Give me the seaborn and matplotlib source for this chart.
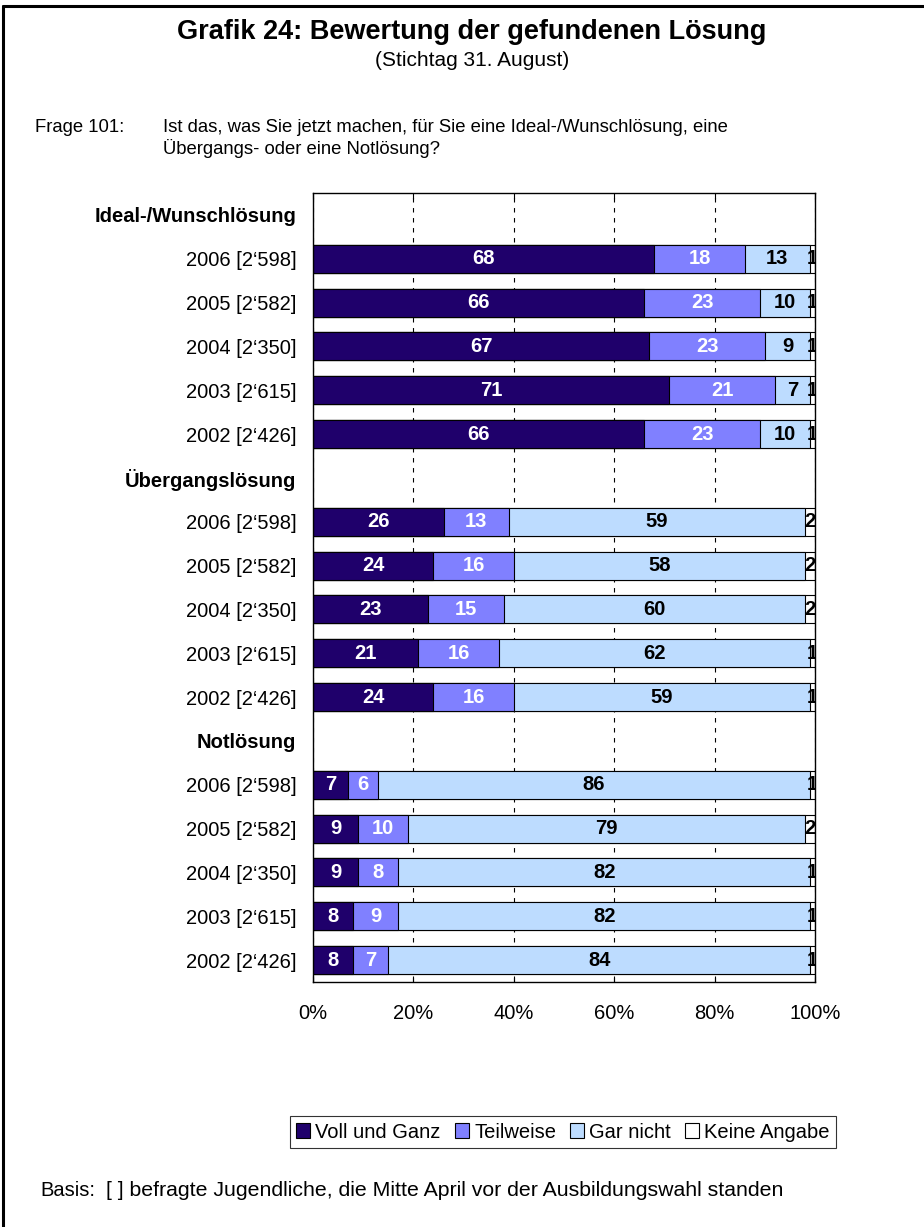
import matplotlib
matplotlib.use("Agg")
import matplotlib.pyplot as plt
from matplotlib.patches import Patch
from matplotlib.lines import Line2D
import seaborn as sns
import pandas as pd
import numpy as np

# ---------------- data ----------------
groups = ["Ideal-/Wunschlösung", "Übergangslösung", "Notlösung"]
years = ["2006 [2‘598]", "2005 [2‘582]", "2004 [2‘350]", "2003 [2‘615]", "2002 [2‘426]"]
series = ["Voll und Ganz", "Teilweise", "Gar nicht", "Keine Angabe"]
colors = ["#1F006B", "#8080FF", "#BDDCFF", "#FFFFFF"]
label_colors = ["white", "white", "black", "black"]

voll = [68, 66, 67, 71, 66, 26, 24, 23, 21, 24, 7, 9, 9, 8, 8]
teil = [18, 23, 23, 21, 23, 13, 16, 15, 16, 16, 6, 10, 8, 9, 7]
gar = [13, 10, 9, 7, 10, 59, 58, 60, 62, 59, 86, 79, 82, 82, 84]
keine = [1, 1, 1, 1, 1, 2, 2, 2, 1, 1, 1, 2, 1, 1, 1]

xticks = [0, 20, 40, 60, 80, 100]
xticklabels = ["0%", "20%", "40%", "60%", "80%", "100%"]

title = "Grafik 24: Bewertung der gefundenen Lösung"
subtitle = "(Stichtag 31. August)"
frage = "Frage 101:"
question = ["Ist das, was Sie jetzt machen, für Sie eine Ideal-/Wunschlösung, eine",
            "Übergangs- oder eine Notlösung?"]
basis = "Basis:"
basis_text = "[ ] befragte Jugendliche, die Mitte April vor der Ausbildungswahl standen"

# ---------------- build table ----------------
order, tick_labels, header_flags = [], [], []
rows = []
i = 0
for g in groups:
    order.append(f"H|{g}")
    tick_labels.append(g)
    header_flags.append(True)
    for y in years:
        key = f"{g}|{y}"
        order.append(key)
        tick_labels.append(y)
        header_flags.append(False)
        rows.append(dict(key=key, v1=voll[i], v2=teil[i], v3=gar[i], v4=keine[i]))
        i += 1
df = pd.DataFrame(rows)
df["c1"] = df["v1"]
df["c2"] = df["c1"] + df["v2"]
df["c3"] = df["c2"] + df["v3"]
df["c4"] = df["c3"] + df["v4"]

# ---------------- figure ----------------
sns.set_style("white")
plt.rcParams["font.family"] = ["Liberation Sans", "DejaVu Sans"]
for k in ["text.color", "axes.labelcolor", "xtick.color", "ytick.color"]:
    plt.rcParams[k] = "black"
FS = 14.5

fig = plt.figure(figsize=(9.24, 12.27), dpi=100)
ax = fig.add_axes([313 / 924, 1 - 982 / 1227, 502 / 924, 789 / 1227])

for cum, col in zip(["c4", "c3", "c2", "c1"], colors[::-1]):
    sns.barplot(data=df, x=cum, y="key", order=order, orient="h", color=col,
                saturation=1, width=0.64, edgecolor="black", linewidth=0.8,
                errorbar=None, ax=ax, zorder=2)

# value labels
for _, r in df.iterrows():
    pos = order.index(r["key"])
    left = 0
    for k, vcol in enumerate(["v1", "v2", "v3", "v4"]):
        v = r[vcol]
        ax.text(left + v / 2, pos, str(int(v)), ha="center", va="center",
                fontsize=FS, fontweight="bold", color=label_colors[k],
                clip_on=True, zorder=5)
        left += v

ax.set_xlim(0, 100)
ax.set_ylim(len(order) - 0.5, -0.5)
ax.set_xticks(xticks)
ax.set_xticklabels(xticklabels, fontsize=FS)
ax.set_yticks(range(len(order)))
ax.set_yticklabels(tick_labels, fontsize=FS)
for lab, h in zip(ax.get_yticklabels(), header_flags):
    if h:
        lab.set_fontweight("bold")
ax.set_xlabel("")
ax.set_ylabel("")
ax.tick_params(axis="y", length=0, pad=12)
ax.tick_params(axis="x", direction="in", length=4, width=0.8, pad=16, bottom=True, top=True)
ax.set_axisbelow(True)
ax.xaxis.grid(True, color="black", linestyle=(0, (4, 5)), linewidth=0.8)
for s in ax.spines.values():
    s.set_visible(True)
    s.set_color("black")
    s.set_linewidth(1.0)

# legend
handles = [Patch(facecolor=c, edgecolor="black", linewidth=0.8) for c in colors]
leg = fig.legend(handles, series, loc="center", bbox_to_anchor=(563 / 924, 1 - 1132 / 1227),
                 ncol=4, fontsize=FS, frameon=True, fancybox=False, handlelength=0.7,
                 handleheight=0.7, handletextpad=0.25, columnspacing=0.7, borderpad=0.3,
                 borderaxespad=0)
leg.get_frame().set_edgecolor("black")
leg.get_frame().set_linewidth(0.8)

# texts
fig.text(472 / 924, 1 - 32 / 1227, title, ha="center", va="center", fontsize=19.5, fontweight="bold")
fig.text(472 / 924, 1 - 61 / 1227, subtitle, ha="center", va="center", fontsize=15)
fig.text(35 / 924, 1 - 127 / 1227, frage, ha="left", va="center", fontsize=13.3)
fig.text(163 / 924, 1 - 127 / 1227, question[0], ha="left", va="center", fontsize=13.3)
fig.text(163 / 924, 1 - 148 / 1227, question[1], ha="left", va="center", fontsize=13.3)
fig.text(40 / 924, 1 - 1191 / 1227, basis, ha="left", va="center", fontsize=14.5)
fig.text(106 / 924, 1 - 1191 / 1227, basis_text, ha="left", va="center", fontsize=15.3)

# page frame
fig.add_artist(Line2D([3 / 924, 1.0], [1 - 6 / 1227, 1 - 6 / 1227], color="black", linewidth=2.2,
                      transform=fig.transFigure))
fig.add_artist(Line2D([3 / 924, 3 / 924], [1 - 6 / 1227, 0], color="black", linewidth=2.2,
                      transform=fig.transFigure))

fig.savefig("out.png", dpi=100)
